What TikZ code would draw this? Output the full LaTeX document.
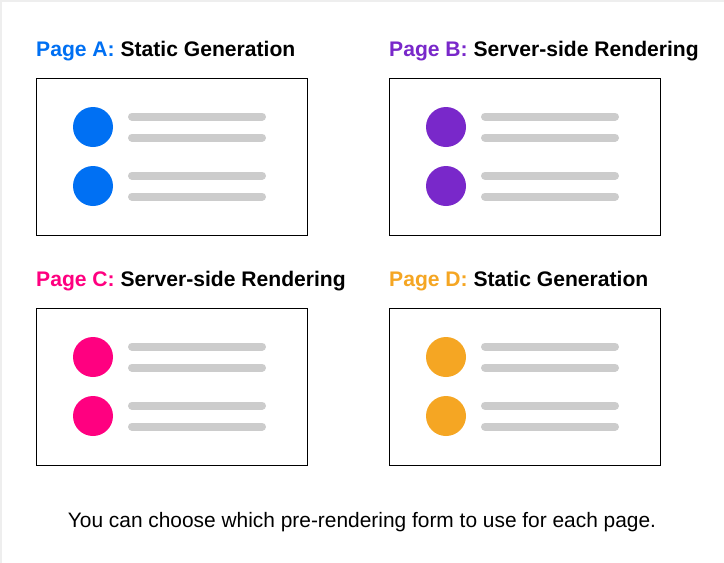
\documentclass[tikz,border=0pt]{standalone}
\usepackage{fontspec}
\setmainfont{Liberation Sans}
\definecolor{cA}{HTML}{0070F3}
\definecolor{cB}{HTML}{7928CA}
\definecolor{cC}{HTML}{FF0080}
\definecolor{cD}{HTML}{F5A623}
\definecolor{bar}{HTML}{CCCCCC}
\definecolor{edge}{HTML}{EEEEEE}
\tikzset{
  page/.style={draw=black, line width=1.2pt},
  bullet/.style={circle, inner sep=0pt, minimum size=40pt},
  barline/.style={draw=bar, line width=8pt, line cap=round},
  title/.style={anchor=base west, inner sep=0pt, font=\fontsize{21.1}{25}\selectfont\bfseries},
}
\begin{document}
\begin{tikzpicture}[x=1pt,y=-1pt]
\useasboundingbox (0,0) rectangle (724,563);
\fill[white] (0,0) rectangle (724,563);
\draw[edge, line width=2pt] (1,563) -- (1,1) -- (724,1);
% page frames
\foreach \n/\x/\y/\c in {A/36/78/cA, B/389/78/cB, C/36/308/cC, D/389/308/cD}{
  \node[page, minimum width=271pt, minimum height=157pt, anchor=north west, inner sep=0pt] (box\n) at (\x,\y) {};
  \node[bullet, fill=\c] (b\n1) at (\x+57,\y+49) {};
  \node[bullet, fill=\c] (b\n2) at (\x+57,\y+108) {};
  \coordinate (l\n1) at (\x+96,\y+38.5);
  \coordinate (r\n1) at (\x+226,\y+38.5);
  \coordinate (l\n2) at (\x+96,\y+59.5);
  \coordinate (r\n2) at (\x+226,\y+59.5);
  \coordinate (l\n3) at (\x+96,\y+97.5);
  \coordinate (r\n3) at (\x+226,\y+97.5);
  \coordinate (l\n4) at (\x+96,\y+118.5);
  \coordinate (r\n4) at (\x+226,\y+118.5);
  \draw[barline] (l\n1) -- (r\n1);
  \draw[barline] (l\n2) -- (r\n2);
  \draw[barline] (l\n3) -- (r\n3);
  \draw[barline] (l\n4) -- (r\n4);
}
\node[title] (tA) at (36,56.5) {\textcolor{cA}{Page A:} Static Generation};
\node[title] (tB) at (389,56.5) {\textcolor{cB}{Page B:} Server-side Rendering};
\node[title] (tC) at (36,286.5) {\textcolor{cC}{Page C:} Server-side Rendering};
\node[title] (tD) at (389,286.5) {\textcolor{cD}{Page D:} Static Generation};
\node[anchor=base, inner sep=0pt, font=\fontsize{20.9}{25}\selectfont] (cap) at (362,527) {You can choose which pre-rendering form to use for each page.};
\end{tikzpicture}
\end{document}
